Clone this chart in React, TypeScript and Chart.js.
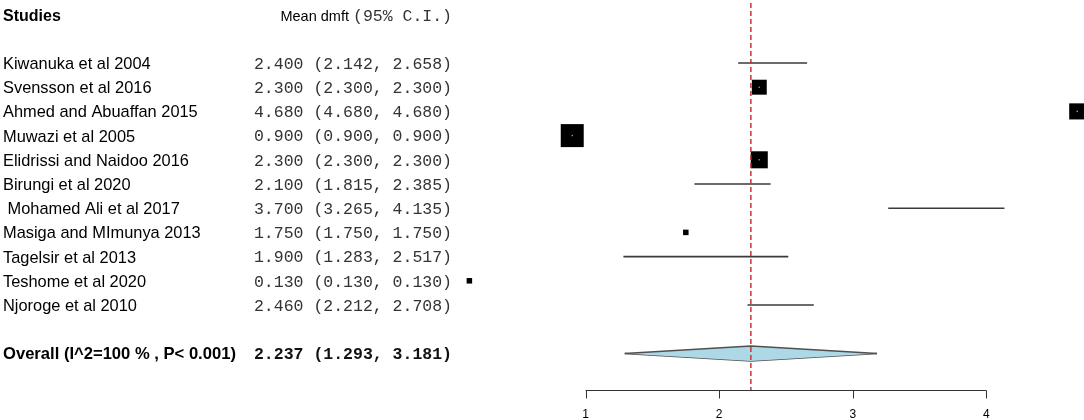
import React, { useEffect, useRef } from "react";
import { Chart, registerables } from "chart.js";

Chart.register(...registerables);

const studies = [
  "Kiwanuka et al 2004",
  "Svensson et al 2016",
  "Ahmed and Abuaffan 2015",
  "Muwazi et al 2005",
  "Elidrissi and Naidoo 2016",
  "Birungi et al 2020",
  " Mohamed Ali et al 2017",
  "Masiga and MImunya 2013",
  "Tagelsir et al 2013",
  "Teshome et al 2020",
  "Njoroge et al 2010",
];
const means = [2.4, 2.3, 4.68, 0.9, 2.3, 2.1, 3.7, 1.75, 1.9, 0.13, 2.46];
const lowers = [2.142, 2.3, 4.68, 0.9, 2.3, 1.815, 3.265, 1.75, 1.283, 0.13, 2.212];
const uppers = [2.658, 2.3, 4.68, 0.9, 2.3, 2.385, 4.135, 1.75, 2.517, 0.13, 2.708];
// relative box size (study weight), largest = 1
const boxWeights = [0, 0.65, 0.7, 1, 0.74, 0, 0, 0.24, 0, 0.24, 0];

const overallLabel = "Overall (I^2=100 % , P< 0.001)";
const overallMean = 2.237;
const overallLower = 1.293;
const overallUpper = 3.181;

const xTicks = [1, 2, 3, 4];

const OVERALL_ROW = 12;
const HEADER_ROW = -1.9;
const AXIS_ROW = 13.51;
const TOP_ROW = -2.48;
const DIAMOND_HALF = 0.31;
const MAX_BOX_RADIUS = 23 / (2 * Math.SQRT1_2);

const fmt = (m: number, l: number, u: number) =>
  `${m.toFixed(3)} (${l.toFixed(3)}, ${u.toFixed(3)})`;

const textPlugin = {
  id: "forestText",
  afterDraw(chart: any) {
    const ctx = chart.ctx as CanvasRenderingContext2D;
    const ys = chart.scales.y;
    const xs = chart.scales.x;
    ctx.save();
    ctx.textBaseline = "middle";

    // header
    const hy = ys.getPixelForValue(HEADER_ROW);
    ctx.fillStyle = "#000";
    ctx.textAlign = "left";
    ctx.font = 'bold 16px "Liberation Sans", Arial, sans-serif';
    ctx.fillText("Studies", 3, hy);
    const monoFont = '16.5px "Liberation Mono", "Courier New", monospace';
    ctx.font = monoFont;
    ctx.textAlign = "right";
    ctx.fillStyle = "#333";
    ctx.fillText("(95% C.I.)", 452, hy);
    const w = ctx.measureText("(95% C.I.)").width;
    ctx.font = '14.5px "Liberation Sans", Arial, sans-serif';
    ctx.fillStyle = "#000";
    ctx.fillText("Mean dmft ", 452 - w, hy);

    studies.forEach((s, i) => {
      const py = ys.getPixelForValue(i) + 1.5;
      ctx.textAlign = "left";
      ctx.fillStyle = "#000";
      ctx.font = '16.4px "Liberation Sans", Arial, sans-serif';
      ctx.fillText(s, 3, py);
      ctx.textAlign = "right";
      ctx.fillStyle = "#333";
      ctx.font = monoFont;
      ctx.fillText(fmt(means[i], lowers[i], uppers[i]), 452, py);
    });

    const oy = ys.getPixelForValue(OVERALL_ROW) + 1.5;
    ctx.textAlign = "left";
    ctx.fillStyle = "#000";
    ctx.font = 'bold 16.6px "Liberation Sans", Arial, sans-serif';
    ctx.fillText(overallLabel, 3, oy);
    ctx.textAlign = "right";
    ctx.fillStyle = "#111";
    ctx.font = 'bold 16.5px "Liberation Mono", "Courier New", monospace';
    ctx.fillText(fmt(overallMean, overallLower, overallUpper), 452, oy);

    // axis
    const ay = Math.round(ys.getPixelForValue(AXIS_ROW)) + 0.5;
    ctx.strokeStyle = "#333";
    ctx.lineWidth = 1;
    ctx.beginPath();
    ctx.moveTo(xs.getPixelForValue(xTicks[0]), ay);
    ctx.lineTo(xs.getPixelForValue(xTicks[xTicks.length - 1]), ay);
    xTicks.forEach((t) => {
      const px = Math.round(xs.getPixelForValue(t)) + 0.5;
      ctx.moveTo(px, ay);
      ctx.lineTo(px, ay + 8);
    });
    ctx.stroke();
    ctx.fillStyle = "#000";
    ctx.textAlign = "center";
    ctx.font = '12px "Liberation Sans", Arial, sans-serif';
    xTicks.forEach((t) => {
      ctx.fillText(String(t), xs.getPixelForValue(t), ay + 24);
    });
    ctx.restore();
  },
};

export default function App() {
  const ref = useRef<HTMLCanvasElement | null>(null);
  useEffect(() => {
    if (!ref.current) return;
    const datasets: any[] = [];
    // reference (overall estimate) line
    datasets.push({
      data: [
        { x: overallMean, y: TOP_ROW },
        { x: overallMean, y: AXIS_ROW },
      ],
      borderColor: "#cc3333",
      borderWidth: 1.5,
      borderDash: [5, 3],
      pointRadius: 0,
      fill: false,
    });
    // centre dots of boxes
    datasets.push({
      data: means.map((m, i) => ({ x: m, y: i })),
      showLine: false,
      pointStyle: "circle",
      pointRadius: boxWeights.map((wt) => (wt > 0.5 ? 0.8 : 0)),
      pointBackgroundColor: "#9a9a9a",
      pointBorderWidth: 0,
      borderWidth: 0,
    });
    // boxes
    datasets.push({
      data: means.map((m, i) => ({ x: m, y: i })),
      showLine: false,
      pointStyle: "rect",
      pointRadius: boxWeights.map((wt) => wt * MAX_BOX_RADIUS),
      pointBackgroundColor: "#000",
      pointBorderWidth: 0,
      borderWidth: 0,
    });
    // CI lines
    studies.forEach((_, i) => {
      if (uppers[i] > lowers[i]) {
        datasets.push({
          data: [
            { x: lowers[i], y: i },
            { x: uppers[i], y: i },
          ],
          borderColor: "#3a3a3a",
          borderWidth: 1.6,
          pointRadius: 0,
          fill: false,
        });
      }
    });
    // diamond
    datasets.push({
      data: [
        { x: overallLower, y: OVERALL_ROW },
        { x: overallMean, y: OVERALL_ROW - DIAMOND_HALF },
        { x: overallUpper, y: OVERALL_ROW },
      ],
      borderColor: "#505050",
      borderWidth: 1.5,
      backgroundColor: "#add8e6",
      pointRadius: 0,
      tension: 0,
      fill: "+1",
    });
    datasets.push({
      data: [
        { x: overallLower, y: OVERALL_ROW },
        { x: overallMean, y: OVERALL_ROW + DIAMOND_HALF },
        { x: overallUpper, y: OVERALL_ROW },
      ],
      borderColor: "#505050",
      borderWidth: 1.5,
      pointRadius: 0,
      tension: 0,
      fill: false,
    });

    const chart = new Chart(ref.current, {
      type: "line",
      data: { datasets },
      options: {
        responsive: false,
        animation: false,
        devicePixelRatio: 1,
        events: [],
        layout: { padding: 0 },
        plugins: { legend: { display: false }, tooltip: { enabled: false } },
        scales: {
          x: { type: "linear", min: -452 / 133.6, max: (1084 - 452) / 133.6, display: false },
          y: { type: "linear", reverse: true, min: -63 / 24.2, max: (420 - 63) / 24.2, display: false },
        },
      },
      plugins: [textPlugin],
    });
    return () => chart.destroy();
  }, []);
  return (
    <div style={{ position: "absolute", left: 0, top: 0, width: 1084, height: 420, background: "#fff" }}>
      <canvas ref={ref} width={1084} height={420} />
    </div>
  );
}
